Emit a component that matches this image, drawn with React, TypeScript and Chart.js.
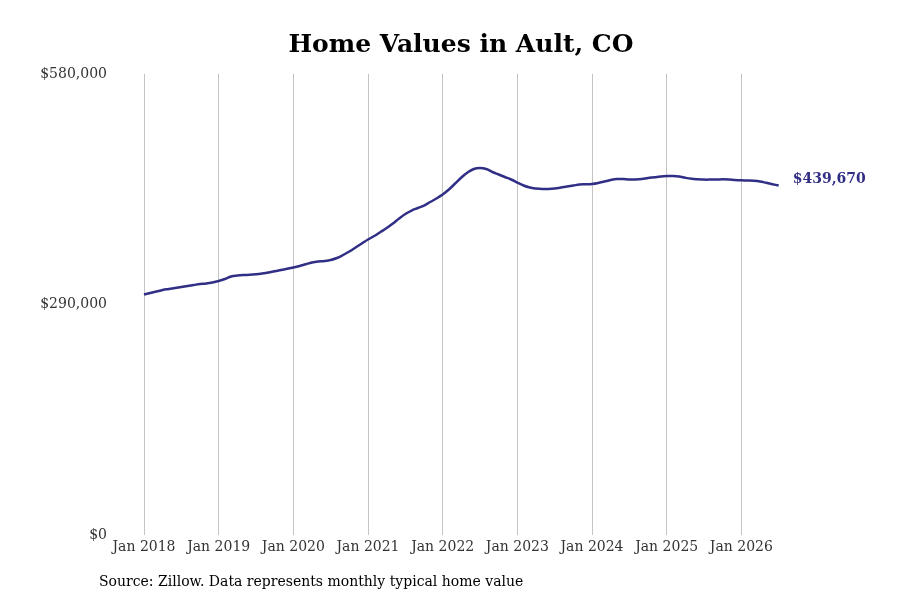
import React, { useEffect, useRef } from "react";
import { Chart, registerables } from "chart.js";

Chart.register(...registerables);

// month index 0 = Jan 2018, one value per month up to Jul 2026
const years = [2018, 2019, 2020, 2021, 2022, 2023, 2024, 2025, 2026];

const values2018 = [302570, 304460, 306350, 308230, 309490, 310750, 312010, 313270, 314530, 315780, 316410, 317670];
const values2019 = [319560, 322070, 325220, 326480, 327110, 327360, 327990, 328990, 330250, 331890, 333400, 334910];
const values2020 = [336540, 338430, 340690, 342830, 344090, 344720, 345980, 348490, 352270, 356670, 361700, 366740];
const values2021 = [371770, 376170, 381200, 386240, 391900, 398190, 403850, 408250, 411400, 414540, 418950, 423350];
const values2022 = [428380, 434670, 442220, 449770, 456060, 460460, 461720, 460460, 456690, 453540, 450400, 447260];
const values2023 = [443480, 439710, 437190, 435930, 435300, 435300, 435930, 437190, 438450, 439710, 440960, 441220];
const values2024 = [441590, 442850, 444740, 446630, 447880, 447880, 447260, 447260, 447880, 449140, 450020, 451030];
const values2025 = [451660, 451660, 451030, 449390, 448140, 447510, 447130, 447130, 447260, 447510, 447260, 446630];
const values2026 = [446250, 446000, 445620, 444740, 443100, 441340, 439670];

const homeValues = [
  ...values2018, ...values2019, ...values2020, ...values2021, ...values2022,
  ...values2023, ...values2024, ...values2025, ...values2026,
];

const yTicks = [0, 290000, 580000];

const titleText = "Home Values in Ault, CO";
const sourceText = "Source: Zillow. Data represents monthly typical home value";

const LINE_COLOR = "#312e86";
const FONT = "'DejaVu Serif', serif";

const money = (v: number) => "$" + v.toLocaleString("en-US");

const App = () => {
  const chartRef = useRef<HTMLCanvasElement>(null);

  useEffect(() => {
    if (!chartRef.current) return;
    const ctx = chartRef.current.getContext("2d");
    if (!ctx) return;

    const textPlugin = {
      id: "extraText",
      afterDraw(chart: any) {
        const c = chart.ctx;
        c.save();
        c.fillStyle = "#000";
        c.font = `bold 25px ${FONT}`;
        c.textAlign = "center";
        c.textBaseline = "middle";
        c.fillText(titleText, 461, 45);

        c.font = `14px ${FONT}`;
        c.textAlign = "left";
        c.fillText(sourceText, 99, 582);

        // label at the last point
        const meta = chart.getDatasetMeta(0);
        const last = meta.data[meta.data.length - 1];
        if (last) {
          c.fillStyle = LINE_COLOR;
          c.font = `bold 14px ${FONT}`;
          c.fillText(money(homeValues[homeValues.length - 1]), last.x + 14, last.y - 6);
        }
        c.restore();
      },
    };

    const chart = new Chart(ctx, {
      type: "line",
      data: {
        datasets: [
          {
            data: homeValues.map((v, i) => ({ x: i, y: v })),
            borderColor: LINE_COLOR,
            borderWidth: 2.5,
            pointRadius: 0,
            tension: 0.4,
            fill: false,
          },
        ],
      },
      options: {
        animation: false,
        responsive: false,
        layout: { padding: { top: 74, right: 28, bottom: 25, left: 0 } },
        plugins: {
          legend: { display: false },
          title: { display: false },
          tooltip: { enabled: false },
        },
        scales: {
          x: {
            type: "linear",
            min: -4.5,
            max: 117,
            afterBuildTicks: (scale: any) => {
              scale.ticks = years.map((_, i) => ({ value: i * 12 }));
            },
            afterFit: (scale: any) => {
              scale.height = 40;
            },
            grid: { color: "#c4c4c4", lineWidth: 1, drawTicks: false },
            border: { display: false },
            ticks: {
              padding: 4,
              color: "#333",
              font: { family: FONT, size: 14 },
              callback: (v: any) => "Jan " + (2018 + Number(v) / 12),
            },
          },
          y: {
            min: 0,
            max: 580000,
            afterBuildTicks: (scale: any) => {
              scale.ticks = yTicks.map((v) => ({ value: v }));
            },
            afterFit: (scale: any) => {
              scale.width = 116;
            },
            grid: { display: false, drawTicks: false },
            border: { display: false },
            ticks: {
              padding: 9,
              color: "#333",
              font: { family: FONT, size: 14 },
              callback: (v: any) => money(Number(v)),
            },
          },
        },
      },
      plugins: [textPlugin],
    });

    return () => {
      chart.destroy();
    };
  }, []);

  return (
    <div style={{ position: "fixed", left: 0, top: 0, width: 900, height: 600, background: "#fff" }}>
      <canvas ref={chartRef} width={900} height={600} />
    </div>
  );
};

export default App;
